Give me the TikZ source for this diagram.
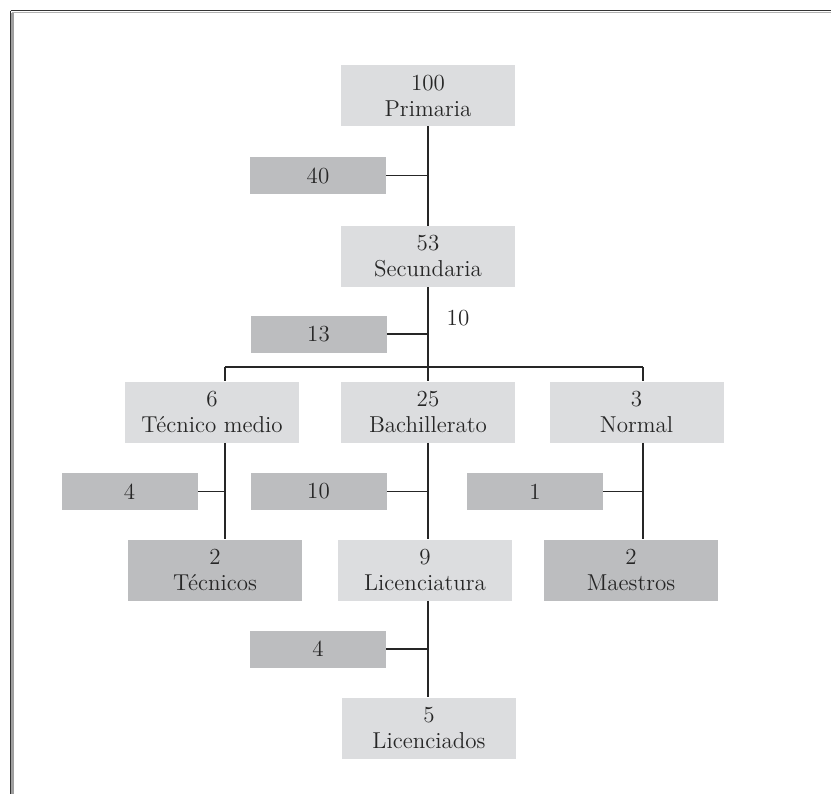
\documentclass[tikz,border=0pt]{standalone}
\usepackage{fontspec}
\usepackage{tikz}

\definecolor{boxlight}{HTML}{DCDDDF}
\definecolor{boxdark}{HTML}{BCBDBF}
\definecolor{ink}{HTML}{262626}

\newcommand{\spaced}[1]{{\addfontfeature{LetterSpace=18}#1}}

\tikzset{
  bigbox/.style={fill=boxlight, text=ink, align=center, minimum width=87pt,
    minimum height=30.5pt, inner sep=0pt, font=\fontsize{11.5}{13}\selectfont},
  resultbox/.style={bigbox, fill=boxdark},
  dropbox/.style={fill=boxdark, text=ink, minimum width=68pt,
    minimum height=18.5pt, inner sep=0pt, font=\fontsize{11.5}{13}\selectfont},
  wire/.style={draw=ink, line width=0.6pt}
}

\begin{document}
\begin{tikzpicture}[x=0.5pt, y=-0.5pt]
                \useasboundingbox (0,0) rectangle (831,794);
                % Frame:
                \draw[line width=1.5pt, gray!75] (12,12.5) -- (12,794);
                \draw[line width=0.8pt, gray!60] (12,12.5) -- (831,12.5);
                \draw[line width=0.6pt, black!80] (10.5,10.5) -- (10.5,794);
                \draw[line width=0.6pt, black!80] (10.5,10.5) -- (831,10.5);
                % Boxes:
                \node[bigbox](prim) at (428, 95.5){\spaced{100}\\Primaria};
                \node[bigbox](sec) at (428, 256.5){\spaced{53}\\Secundaria};
                \node[bigbox](tec) at (212, 412){6\\Técnico medio};
                \node[bigbox](bach) at (428, 412){\spaced{25}\\Bachillerato};
                \node[bigbox](nor) at (636.5, 412){3\\Normal};
                \node[resultbox](tcos) at (215, 570){2\\Técnicos};
                \node[bigbox](lic) at (425, 570){9\\Licenciatura};
                \node[resultbox](maes) at (631, 570){2\\Maestros};
                \node[bigbox](licdos) at (429, 728){5\\Licenciados};
                % Drop-outs:
                \node[dropbox](d40) at (318, 175.5){\spaced{40}};
                \node[dropbox](d13) at (318.5, 334){\spaced{13}};
                \node[dropbox](d4a) at (129.5, 491.5){4};
                \node[dropbox](d10) at (318.5, 491.5){\spaced{10}};
                \node[dropbox](d1) at (535, 491.5){1};
                \node[dropbox](d4b) at (318, 649){4};
                \node[text=ink, font=\fontsize{11.5}{13}\selectfont](n10) at (458, 318){\spaced{10}};
                % Wires:
                \coordinate (busL) at (225, 367);
                \coordinate (busR) at (643, 367);
                \coordinate (mid) at (428, 367);
                \draw[wire] (prim.south) -- (sec.north);
                \draw[wire] (sec.south) -- (mid |- bach.north);
                \draw[wire] (busL) -- (busR);
                \draw[wire] (busL) -- (busL |- tec.north);
                \draw[wire] (busR) -- (busR |- nor.north);
                \draw[wire] (busL |- tec.south) -- (busL |- tcos.north);
                \draw[wire] (busR |- nor.south) -- (busR |- maes.north);
                \draw[wire] (mid |- bach.south) -- (mid |- lic.north);
                \draw[wire] (mid |- lic.south) -- (mid |- licdos.north);
                \draw[wire] (d40.east) -- (d40 -| mid);
                \draw[wire] (d13.east) -- (d13 -| mid);
                \draw[wire] (d4a.east) -- (d4a -| busL);
                \draw[wire] (d10.east) -- (d10 -| mid);
                \draw[wire] (d1.east) -- (d1 -| busR);
                \draw[wire] (d4b.east) -- (d4b -| mid);
            \end{tikzpicture}
\end{document}
